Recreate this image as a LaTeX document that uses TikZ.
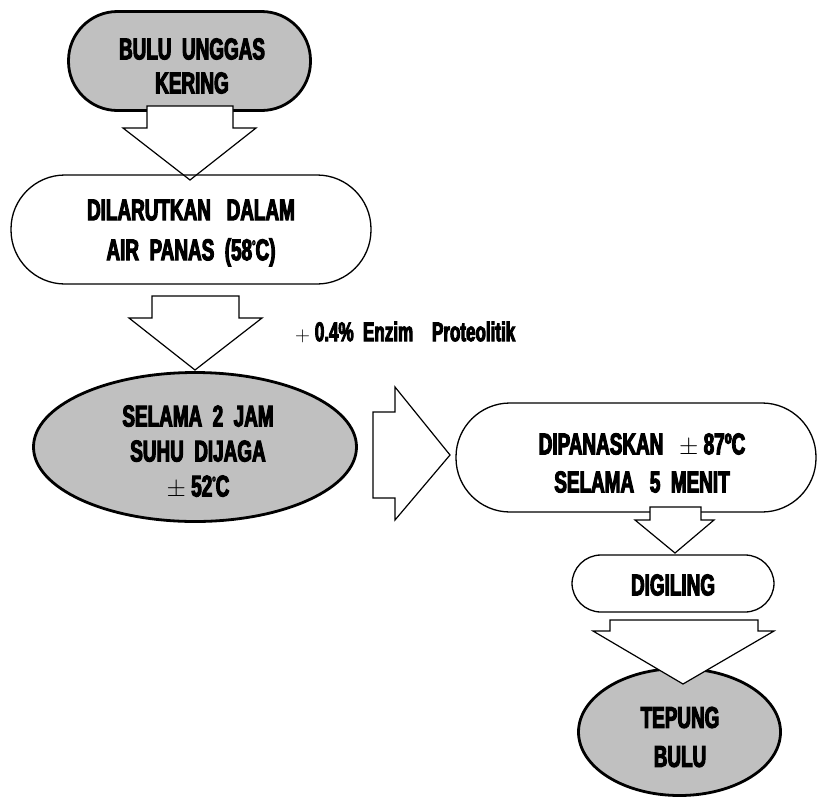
\documentclass[tikz,border=0pt]{standalone}
\usepackage{fontspec}
\usetikzlibrary{shapes.geometric}
\newfontfamily\impfont{Liberation Sans}[FakeStretch=0.63,FakeBold=3.5]
\definecolor{boxgray}{HTML}{C0C0C0}
\newcommand\smalldeg{\raisebox{0.5em}{\fontsize{9}{9}\selectfont o}}
\begin{document}
\begin{tikzpicture}[x=1pt,y=-1pt,
  grayshape/.style={fill=boxgray, draw=black, line width=2.8pt, inner sep=0pt},
  whiteshape/.style={fill=white, draw=black, line width=1.3pt, inner sep=0pt},
  blockarrow/.style={fill=white, draw=black, line width=1.2pt, line join=miter},
  lbl/.style={font=\impfont\bfseries\fontsize{30}{#1}\selectfont, align=center, inner sep=0pt},
  note/.style={font=\impfont\bfseries\fontsize{27}{28}\selectfont, anchor=west, inner sep=0pt}
]
\useasboundingbox (0,0) rectangle (818,798);

% first step, with its outgoing arrow drawn over its lower edge
\node[grayshape, rounded corners=49pt, minimum width=242pt, minimum height=99pt] (raw) at (189.5,61) {};
\draw[blockarrow] (147,106) -- (233,106) -- (233,128) -- (256,128) -- (190,180)
  -- (123,128) -- (147,128) -- cycle;
% the arrow tip runs just inside the next outline
\node[whiteshape, fill=none, rounded corners=54pt, minimum width=360pt, minimum height=109pt] (dissolve) at (191,229.5) {};

\draw[blockarrow] (152,296) -- (239,296) -- (239,318) -- (262,318) -- (195,370)
  -- (129,318) -- (152,318) -- cycle;
\node[grayshape, ellipse, minimum width=323pt, minimum height=149pt] (hold) at (195,447) {};

\draw[blockarrow] (373,412) -- (395,412) -- (395,387) -- (450,455) -- (395,520)
  -- (395,498) -- (373,498) -- cycle;
\node[whiteshape, rounded corners=54pt, minimum width=360pt, minimum height=109pt] (heat) at (636,457.5) {};

\draw[blockarrow] (650,507) -- (701,507) -- (701,520) -- (714,520) -- (675,553)
  -- (635,520) -- (650,520) -- cycle;
\node[whiteshape, rounded corners=29pt, minimum width=202pt, minimum height=57pt] (grind) at (673,583.5) {};

\node[grayshape, ellipse, minimum width=202pt, minimum height=127pt] (flour) at (679.5,732) {};
\draw[blockarrow] (610,620) -- (758,620) -- (758,631) -- (774,631) -- (683,684)
  -- (593,631) -- (610,631) -- cycle;

% step texts
\node[lbl=34] (rawtxt) at (192,66) {BULU\ \ UNGGAS\\KERING};
\node[lbl=40] (dissolvetxt) at (191,233) {DILARUTKAN\ \ \ DALAM\\AIR\ \ PANAS\ \ (58\smalldeg C)};
\node[lbl=35] (holdtxt) at (198,452) {SELAMA\ \ 2\ \ JAM\\SUHU\ \ DIJAGA\\{\normalfont\fontsize{24}{24}\selectfont$\pm$}\ 52\smalldeg C};
\node[lbl=38] (heattxt) at (642,463) {DIPANASKAN\ \ \ {\normalfont\fontsize{24}{24}\selectfont$\pm$}\ 87ºC\\SELAMA\ \ \ 5\ \ MENIT};
\node[lbl=34] (grindtxt) at (673,585) {DIGILING};
\node[lbl=39] (flourtxt) at (680,737) {TEPUNG\\BULU};

\node[note] (enzyme) at (295,332) {{\normalfont\fontsize{20}{20}\selectfont$+$}\ 0.4\%\ \ Enzim\ \ \ \ Proteolitik};
\end{tikzpicture}
\end{document}
